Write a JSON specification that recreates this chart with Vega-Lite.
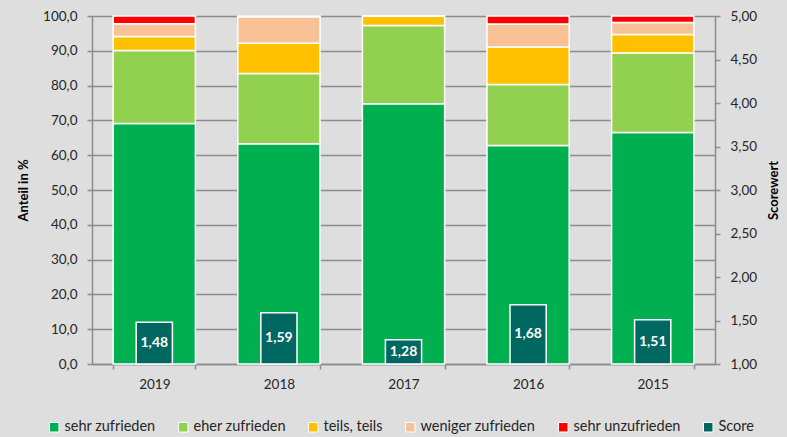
{
  "$schema": "https://vega.github.io/schema/vega-lite/v6.json",
  "width": 623,
  "height": 348,
  "autosize": "none",
  "padding": {"left": 92, "top": 16, "right": 72, "bottom": 73},
  "background": "#dedede",
  "config": {
    "view": {"stroke": null},
    "font": "Lato",
    "axis": {
      "labelFont": "Lato",
      "labelFontSize": 13.5,
      "labelColor": "#262626",
      "titleFont": "Lato",
      "titleFontSize": 13,
      "titleFontWeight": "bold",
      "titleColor": "#000000",
      "domainColor": "#8c8c8c",
      "domainWidth": 1.5,
      "tickColor": "#8c8c8c",
      "tickWidth": 1.5,
      "tickSize": 5
    }
  },
  "datasets": {
    "pct": [
      {"Jahr": "2019", "Kategorie": "sehr zufrieden", "Anteil": 69.1},
      {"Jahr": "2019", "Kategorie": "eher zufrieden", "Anteil": 21.0},
      {"Jahr": "2019", "Kategorie": "teils, teils", "Anteil": 4.0},
      {"Jahr": "2019", "Kategorie": "weniger zufrieden", "Anteil": 3.7},
      {"Jahr": "2019", "Kategorie": "sehr unzufrieden", "Anteil": 2.2},
      {"Jahr": "2018", "Kategorie": "sehr zufrieden", "Anteil": 63.3},
      {"Jahr": "2018", "Kategorie": "eher zufrieden", "Anteil": 20.2},
      {"Jahr": "2018", "Kategorie": "teils, teils", "Anteil": 8.7},
      {"Jahr": "2018", "Kategorie": "weniger zufrieden", "Anteil": 7.6},
      {"Jahr": "2018", "Kategorie": "sehr unzufrieden", "Anteil": 0.2},
      {"Jahr": "2017", "Kategorie": "sehr zufrieden", "Anteil": 74.8},
      {"Jahr": "2017", "Kategorie": "eher zufrieden", "Anteil": 22.5},
      {"Jahr": "2017", "Kategorie": "teils, teils", "Anteil": 2.7},
      {"Jahr": "2017", "Kategorie": "weniger zufrieden", "Anteil": 0.0},
      {"Jahr": "2017", "Kategorie": "sehr unzufrieden", "Anteil": 0.0},
      {"Jahr": "2016", "Kategorie": "sehr zufrieden", "Anteil": 62.8},
      {"Jahr": "2016", "Kategorie": "eher zufrieden", "Anteil": 17.5},
      {"Jahr": "2016", "Kategorie": "teils, teils", "Anteil": 10.8},
      {"Jahr": "2016", "Kategorie": "weniger zufrieden", "Anteil": 6.6},
      {"Jahr": "2016", "Kategorie": "sehr unzufrieden", "Anteil": 2.3},
      {"Jahr": "2015", "Kategorie": "sehr zufrieden", "Anteil": 66.5},
      {"Jahr": "2015", "Kategorie": "eher zufrieden", "Anteil": 22.9},
      {"Jahr": "2015", "Kategorie": "teils, teils", "Anteil": 5.3},
      {"Jahr": "2015", "Kategorie": "weniger zufrieden", "Anteil": 3.4},
      {"Jahr": "2015", "Kategorie": "sehr unzufrieden", "Anteil": 1.9}
    ],
    "score": [
      {"Jahr": "2019", "Score": 1.48},
      {"Jahr": "2018", "Score": 1.59},
      {"Jahr": "2017", "Score": 1.28},
      {"Jahr": "2016", "Score": 1.68},
      {"Jahr": "2015", "Score": 1.51}
    ]
  },
  "layer": [
    {
      "data": {"name": "pct"},
      "transform": [
        {"calculate": "indexof(['sehr zufrieden', 'eher zufrieden', 'teils, teils', 'weniger zufrieden', 'sehr unzufrieden'], datum.Kategorie)", "as": "rang"}
      ],
      "mark": {"type": "bar", "stroke": "#ffffff", "strokeWidth": 1.5},
      "encoding": {
        "x": {
          "field": "Jahr", "type": "nominal",
          "sort": ["2019", "2018", "2017", "2016", "2015"],
          "scale": {"paddingInner": 0.34, "paddingOuter": 0.17},
          "axis": {"title": null, "labelAngle": 0, "tickBand": "extent", "labelPadding": 8, "domainWidth": 1.5}
        },
        "y": {
          "field": "Anteil", "type": "quantitative", "stack": "zero",
          "scale": {"domain": [0, 100]},
          "axis": {
            "title": "Anteil in %",
            "values": [0, 10, 20, 30, 40, 50, 60, 70, 80, 90, 100],
            "labelExpr": "replace(format(datum.value, '.1f'), '.', ',')",
            "labelPadding": 10,
            "titlePadding": 12,
            "grid": true,
            "gridColor": "#8c8c8c",
            "gridWidth": 1.5
          }
        },
        "order": {"field": "rang", "type": "quantitative", "sort": "ascending"},
        "color": {
          "field": "Kategorie", "type": "nominal",
          "scale": {
            "domain": ["sehr zufrieden", "eher zufrieden", "teils, teils", "weniger zufrieden", "sehr unzufrieden", "Score"],
            "range": ["#00b050", "#92d050", "#ffc000", "#f8c196", "#ff0000", "#006860"]
          },
          "legend": {
            "title": null,
            "orient": "none",
            "direction": "horizontal",
            "columns": 6,
            "legendX": -45,
            "legendY": 404,
            "symbolType": "square",
            "symbolSize": 90,
            "symbolStrokeColor": "#ffffff",
            "symbolStrokeWidth": 1,
            "labelFont": "Lato",
            "labelFontSize": 14.5,
            "labelColor": "#262626",
            "labelOffset": 3,
            "columnPadding": 20
          }
        }
      }
    },
    {
      "data": {"name": "score"},
      "transform": [
        {"calculate": "(datum.Score + 1) / 2", "as": "mid"},
        {"calculate": "replace(format(datum.Score, '.2f'), '.', ',')", "as": "lab"}
      ],
      "encoding": {
        "x": {"field": "Jahr", "type": "nominal", "sort": ["2019", "2018", "2017", "2016", "2015"]}
      },
      "layer": [
        {
          "mark": {"type": "bar", "width": {"band": 0.44}, "stroke": "#ffffff", "strokeWidth": 1.5},
          "encoding": {
            "y": {
              "field": "Score", "type": "quantitative",
              "scale": {"domain": [1, 5], "zero": false},
              "axis": {
                "orient": "right",
                "title": "Scorewert",
                "titleAngle": -90,
                "titleBaseline": "top",
                "values": [1, 1.5, 2, 2.5, 3, 3.5, 4, 4.5, 5],
                "labelExpr": "replace(format(datum.value, '.2f'), '.', ',')",
                "labelPadding": 10,
                "titlePadding": 11,
                "grid": false
              }
            },
            "y2": {"datum": 1},
            "color": {"datum": "Score"}
          }
        },
        {
          "mark": {"type": "text", "color": "#ffffff", "fontWeight": "bold", "fontSize": 14, "font": "Lato", "baseline": "middle"},
          "encoding": {
            "y": {"field": "mid", "type": "quantitative"},
            "text": {"field": "lab"}
          }
        }
      ]
    }
  ],
  "resolve": {"scale": {"y": "independent"}}
}
